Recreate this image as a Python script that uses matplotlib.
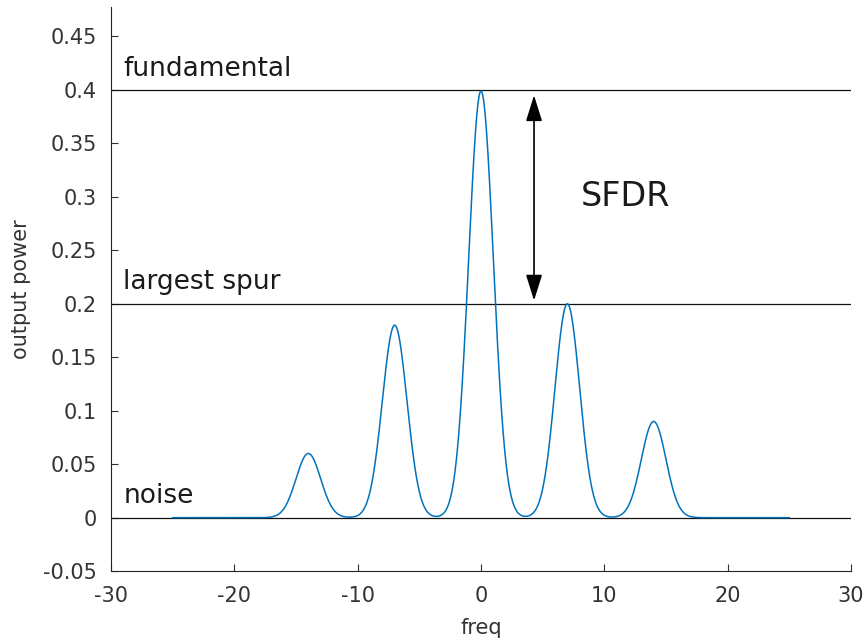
import numpy as np
import matplotlib.pyplot as plt

# Peaks in the spectrum (freq position, peak power)
peak_freqs = [-14, -7, 0, 7, 14]
peak_powers = [0.06, 0.18, 0.399, 0.20, 0.09]
peak_width = 1.0  # std dev of each peak

# Reference levels and their labels
level_values = [0.4, 0.2, 0.0]
level_labels = ['fundamental', 'largest spur', 'noise']

xticks = [-30, -20, -10, 0, 10, 20, 30]
yticks = [-0.05, 0, 0.05, 0.1, 0.15, 0.2, 0.25, 0.3, 0.35, 0.4, 0.45]
ytick_labels = ['-0.05', '0', '0.05', '0.1', '0.15', '0.2', '0.25', '0.3', '0.35', '0.4', '0.45']

plt.rcParams['font.family'] = 'DejaVu Sans'
plt.rcParams['axes.unicode_minus'] = False
fig = plt.figure(figsize=(8.68, 6.41), dpi=100)
ax = fig.add_axes([0.1279, 0.109, 0.8525, 0.880])

# Spectrum: sum of peaks
freq = np.linspace(-25, 25, 2001)
power = np.zeros_like(freq)
for f0, p in zip(peak_freqs, peak_powers):
    power += p * np.exp(-0.5 * ((freq - f0) / peak_width) ** 2)

for lv, lab in zip(level_values, level_labels):
    ax.plot([-30, 30], [lv, lv], color='#111111', lw=0.9)
    ax.text(-29, lv + 0.02, lab, fontsize=19, va='center', ha='left', color='#1a1a1a')

ax.plot(freq, power, color=(0, 0.447, 0.741), lw=1.1)

# SFDR arrow
ax.annotate('', xy=(4.3, 0.395), xytext=(4.3, 0.203),
            arrowprops=dict(arrowstyle='<|-|>,head_length=0.8,head_width=0.25',
                            color='black', lw=1.2, mutation_scale=20,
                            shrinkA=0, shrinkB=0))
ax.text(8.1, 0.30, 'SFDR', fontsize=24, va='center', ha='left', color='#1a1a1a')

ax.set_xlim(-30, 30)
ax.set_ylim(-0.05, 0.4775)
ax.set_xticks(xticks)
ax.set_yticks(yticks)
ax.set_yticklabels(ytick_labels)
ax.tick_params(direction='in', length=5, labelsize=15, colors='#333333')
ax.tick_params(axis='y', pad=10)
ax.tick_params(axis='x', pad=11)
ax.spines['top'].set_visible(False)
ax.spines['right'].set_visible(False)
for s in ['left', 'bottom']:
    ax.spines[s].set_color('#262626')
ax.set_xlabel('freq', fontsize=15, color='#333333', labelpad=8)
ax.set_ylabel('output power', fontsize=15, color='#333333', labelpad=9)

fig.savefig('out.png')
